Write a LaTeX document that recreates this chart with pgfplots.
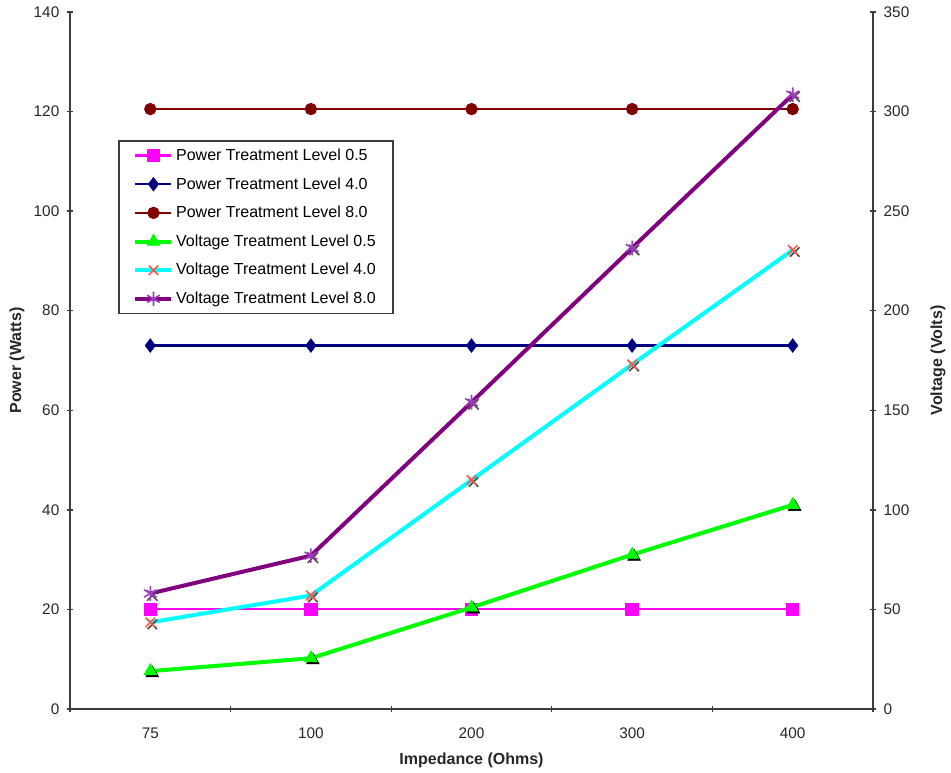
\documentclass[border=0pt]{standalone}
\usepackage{pgfplots}
\pgfplotsset{compat=1.18}
\usepackage{fontspec}
\setmainfont{Liberation Sans}
\definecolor{pwA}{RGB}{255,0,255}
\definecolor{pwB}{RGB}{0,0,128}
\definecolor{pwC}{RGB}{128,0,0}
\definecolor{vA}{RGB}{0,255,0}
\definecolor{vB}{RGB}{0,255,255}
\definecolor{vC}{RGB}{128,0,128}
\definecolor{vBm}{RGB}{255,90,70}
\definecolor{vCm}{RGB}{160,60,190}
\definecolor{axc}{RGB}{60,60,60}

\pgfplotstableread{
x pA pB pC
0 20 73 120.5
1 20 73 120.5
2 20 73 120.5
3 20 73 120.5
4 20 73 120.5
}\powertab
\pgfplotstableread{
x vA vB vC
0 19   43.5 58
1 25.5 57   77
2 51   115  154
3 77.5 173  231.5
4 102.5 230.5 308.5
}\volttab

\begin{document}
\begin{tikzpicture}
\pgfplotsset{
  common/.style={
    at={(0,0)}, anchor=south west, scale only axis,
    width=602.25pt, height=522.75pt,
    xmin=-0.5, xmax=4.5,
    tick align=center,
    major tick length=5pt, minor tick length=5pt,
    axis line style={line width=1.6pt, draw=axc},
    tick style={line width=1pt, draw=axc},
    ticklabel style={font=\fontsize{11.5}{13}\selectfont, text=black!85},
    /pgf/number format/assume math mode=true,
    clip=false,
  },
}
\begin{axis}[common,
  ymin=0, ymax=140, ytick={0,20,...,140},
  axis x line*=bottom, axis y line*=left,
  xtick={0,1,2,3,4}, xticklabels={75,100,200,300,400},
  major x tick style={draw=none},
  minor xtick={-0.5,0.5,1.5,2.5,3.5,4.5},
  xticklabel style={yshift=-8pt},
  yticklabel style={xshift=-2pt},
  xlabel={Impedance (Ohms)}, ylabel={Power (Watts)},
  every axis x label/.style={at={(axis description cs:0.5,-0.073)}, anchor=center, font=\fontsize{12}{14}\selectfont\bfseries, text=black!85},
  every axis y label/.style={at={(axis description cs:-0.066,0.5)}, rotate=90, anchor=center, font=\fontsize{12}{14}\selectfont\bfseries, text=black!85},
]
\addplot[pwA, line width=1.6pt, mark=square*, mark size=4.2pt] table[x=x,y=pA] {\powertab};
\addplot[pwB, line width=1.6pt, mark=diamond*, mark size=4.2pt] table[x=x,y=pB] {\powertab};
\addplot[pwC, line width=1.6pt, mark=*, mark size=3.8pt] table[x=x,y=pC] {\powertab};
\end{axis}

\begin{axis}[common,
  ymin=0, ymax=350, ytick={0,50,...,350},
  axis y line*=right, axis x line=none,
  yticklabel style={xshift=2pt},
  ylabel={Voltage (Volts)},
  every axis y label/.style={at={(axis description cs:1.081,0.5)}, rotate=90, anchor=center, font=\fontsize{12}{14}\selectfont\bfseries, text=black!85},
  legend cell align=left,
  legend image code/.code={\draw[mark repeat=2,mark phase=2,#1] plot coordinates {(0pt,0pt) (13.5pt,0pt) (27pt,0pt)};},
  legend style={at={(axis description cs:0.0598,0.8164)}, anchor=north west,
    draw=axc, line width=1.2pt, font=\fontsize{12}{14}\selectfont,
    row sep=7.3pt, inner xsep=11pt, inner ysep=4pt,
    nodes={inner xsep=2pt}},
]
\addlegendimage{pwA, line width=1.6pt, mark=square*, mark size=4.2pt}
\addlegendentry{Power Treatment Level 0.5}
\addlegendimage{pwB, line width=1.6pt, mark=diamond*, mark size=4.2pt}
\addlegendentry{Power Treatment Level 4.0}
\addlegendimage{pwC, line width=1.6pt, mark=*, mark size=3.8pt}
\addlegendentry{Power Treatment Level 8.0}
% shadows
\addplot[forget plot, only marks, black, mark=triangle*, mark size=5.5pt, mark options={xshift=1.5pt, yshift=-1.5pt}] table[x=x,y=vA] {\volttab};
\addplot[vA, line width=3pt, mark=triangle*, mark size=5.5pt, mark options={line width=0.5pt}] table[x=x,y=vA] {\volttab};
\addlegendentry{Voltage Treatment Level 0.5}
\addplot[forget plot, only marks, black!70, mark=x, mark size=5pt, mark options={line width=1.2pt, xshift=1.5pt, yshift=-1.5pt}] table[x=x,y=vB] {\volttab};
\addplot[vB, line width=3pt, mark=x, mark size=5pt, mark options={draw=vBm, line width=1.2pt}] table[x=x,y=vB] {\volttab};
\addlegendentry{Voltage Treatment Level 4.0}
\addplot[forget plot, only marks, black!70, mark=x, mark size=5.5pt, mark options={line width=1.2pt, xshift=1.5pt, yshift=-1.5pt}] table[x=x,y=vC] {\volttab};
\addplot[vC, line width=3pt, mark=asterisk, mark size=5.5pt, mark options={draw=vCm, line width=1.2pt}] table[x=x,y=vC] {\volttab};
\addlegendentry{Voltage Treatment Level 8.0}
\end{axis}
\pgfresetboundingbox
\path[use as bounding box] (-52.5pt,-48pt) rectangle (660.75pt,531.75pt);
\end{tikzpicture}
\end{document}
